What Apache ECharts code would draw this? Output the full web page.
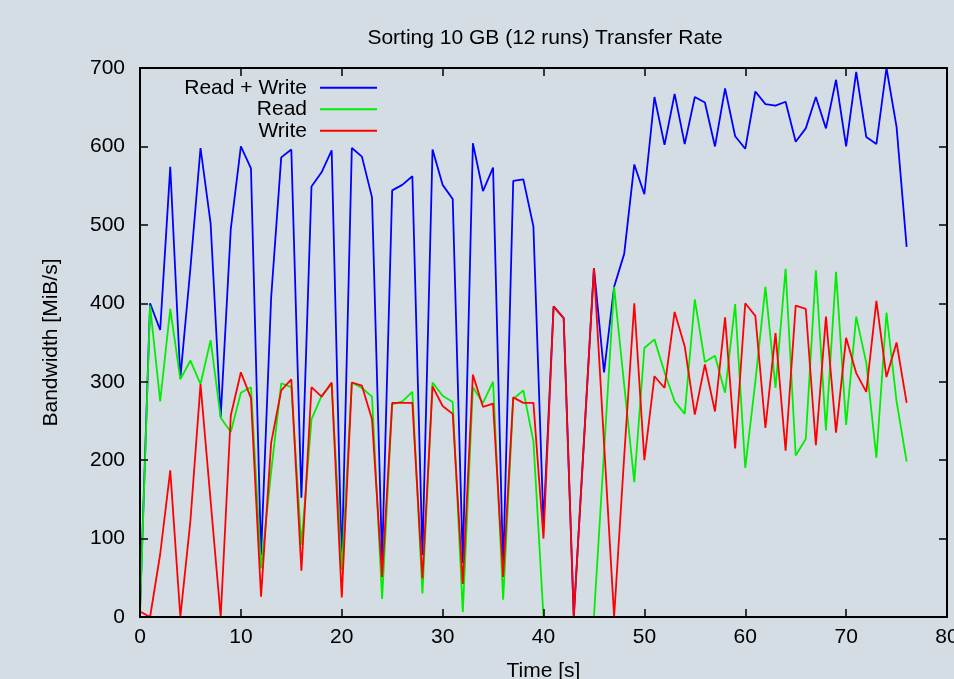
<!DOCTYPE html>
<html>
<head>
    <meta charset="utf-8">
    <title>Sorting 10 GB (12 runs) Transfer Rate</title>
    <script src="https://cdn.jsdelivr.net/npm/echarts@6/dist/echarts.min.js"></script>
    <style>
        html, body { margin: 0; padding: 0; background: #d5dde4; overflow: hidden; }
        #chart { width: 954px; height: 679px; }
    </style>
</head>
<body>
    <div id="chart"></div>
    <script type="text/javascript">
        // time axis [s]
        var time = [0, 1, 2, 3, 4, 5, 6, 7, 8, 9, 10, 11, 12, 13, 14, 15, 16, 17, 18, 19,
            20, 21, 22, 23, 24, 25, 26, 27, 28, 29, 30, 31, 32, 33, 34, 35, 36, 37, 38, 39,
            40, 41, 42, 43, 44, 45, 46, 47, 48, 49, 50, 51, 52, 53, 54, 55, 56, 57, 58, 59,
            60, 61, 62, 63, 64, 65, 66, 67, 68, 69, 70, 71, 72, 73, 74, 75, 76];
        var readWrite = [10, 400, 366, 574, 305, 445, 598, 502, 255, 495, 600, 572, 79, 407, 586, 596, 152, 549, 567, 595,
            65, 598, 587, 535, 72, 544, 551, 562, 79, 596, 551, 533, 69, 604, 543, 573, 60, 556, 558, 498,
            118, 396, 381, 0, 222, 445, 312, 421, 463, 577, 539, 663, 602, 667, 603, 663, 656, 600, 674, 613,
            597, 670, 654, 652, 657, 606, 623, 663, 623, 685, 600, 695, 612, 603, 700, 625, 472];
        var read = [3, 397, 275, 393, 303, 327, 297, 353, 254, 236, 286, 293, 62, 185, 298, 293, 92, 252, 282, 297,
            60, 299, 292, 281, 23, 271, 275, 287, 30, 299, 282, 274, 6, 293, 273, 300, 22, 278, 289, 224,
            0, 0, 0, 0, 0, 0, 210, 421, 296, 172, 343, 354, 312, 275, 259, 405, 325, 333, 286, 399,
            190, 300, 421, 292, 444, 206, 227, 442, 238, 440, 245, 383, 324, 203, 388, 275, 198];
        var write = [7, 0, 80, 187, 0, 123, 297, 148, 0, 257, 312, 279, 26, 222, 289, 303, 59, 293, 281, 299,
            25, 299, 295, 252, 51, 273, 273, 273, 49, 294, 269, 259, 42, 309, 268, 272, 51, 280, 273, 273,
            100, 396, 381, 0, 222, 445, 222, 0, 205, 400, 200, 307, 292, 389, 345, 258, 322, 262, 382, 215,
            400, 384, 241, 362, 212, 397, 393, 219, 383, 235, 356, 311, 287, 403, 306, 350, 273];
        var xTicks = [0, 10, 20, 30, 40, 50, 60, 70, 80];
        var yTicks = [0, 100, 200, 300, 400, 500, 600, 700];

        function pairs(vals) {
            var out = [];
            for (var i = 0; i < time.length; i++) {
                out.push([time[i], vals[i]]);
            }
            return out;
        }

        var font = 'Liberation Sans';
        var fs = 21;
        var chart = echarts.init(document.getElementById('chart'));

        var baseX = {
            type: 'value',
            min: xTicks[0],
            max: xTicks[xTicks.length - 1],
            interval: 10,
            z: 5,
            axisLine: { show: true, onZero: false, lineStyle: { color: '#000', width: 2 } },
            axisTick: { show: true, inside: true, length: 8, lineStyle: { color: '#000', width: 1.5 } },
            splitLine: { show: false }
        };
        var baseY = {
            type: 'value',
            min: yTicks[0],
            max: yTicks[yTicks.length - 1],
            interval: 100,
            z: 5,
            axisLine: { show: true, onZero: false, lineStyle: { color: '#000', width: 2 } },
            axisTick: { show: true, inside: true, length: 8, lineStyle: { color: '#000', width: 1.5 } },
            splitLine: { show: false }
        };

        var option = {
            backgroundColor: '#d5dde4',
            animation: false,
            title: {
                text: 'Sorting 10 GB (12 runs) Transfer Rate',
                left: 540,
                top: 23,
                textAlign: 'center',
                textStyle: { fontFamily: font, fontSize: fs, fontWeight: 'normal', color: '#000' }
            },
            legend: {
                orient: 'vertical',
                right: 577,
                top: 77,
                padding: 0,
                align: 'right',
                icon: 'rect',
                itemWidth: 57,
                itemHeight: 2,
                itemGap: 0,
                textStyle: { fontFamily: font, fontSize: fs, color: '#000', lineHeight: 21.5, padding: [0, 8, 0, 0] },
                data: ['Read + Write', 'Read', 'Write']
            },
            grid: { left: 140, width: 807, top: 68, height: 549, containLabel: false, outerBoundsMode: 'none' },
            xAxis: [
                Object.assign({}, baseX, {
                    position: 'bottom',
                    name: 'Time [s]',
                    nameLocation: 'middle',
                    nameGap: 44,
                    nameTextStyle: { fontFamily: font, fontSize: fs, color: '#000' },
                    axisLabel: { fontFamily: font, fontSize: fs, color: '#000', margin: 10 }
                }),
                Object.assign({}, baseX, { position: 'top', axisLabel: { show: false } })
            ],
            yAxis: [
                Object.assign({}, baseY, {
                    position: 'left',
                    name: 'Bandwidth [MiB/s]',
                    nameLocation: 'middle',
                    nameGap: 78,
                    nameTextStyle: { fontFamily: font, fontSize: fs, color: '#000' },
                    axisLabel: { fontFamily: font, fontSize: fs, color: '#000', margin: 15 }
                }),
                Object.assign({}, baseY, { position: 'right', axisLabel: { show: false } })
            ],
            series: [
                { name: 'Read + Write', type: 'line', data: pairs(readWrite), showSymbol: false, symbol: 'none',
                  color: '#0000ff', lineStyle: { width: 1.8 }, z: 2 },
                { name: 'Read', type: 'line', data: pairs(read), showSymbol: false, symbol: 'none',
                  color: '#00ee00', lineStyle: { width: 1.8 }, z: 2 },
                { name: 'Write', type: 'line', data: pairs(write), showSymbol: false, symbol: 'none',
                  color: '#ff0000', lineStyle: { width: 1.8 }, z: 2 }
            ]
        };
        chart.setOption(option);
    </script>
</body>
</html>
